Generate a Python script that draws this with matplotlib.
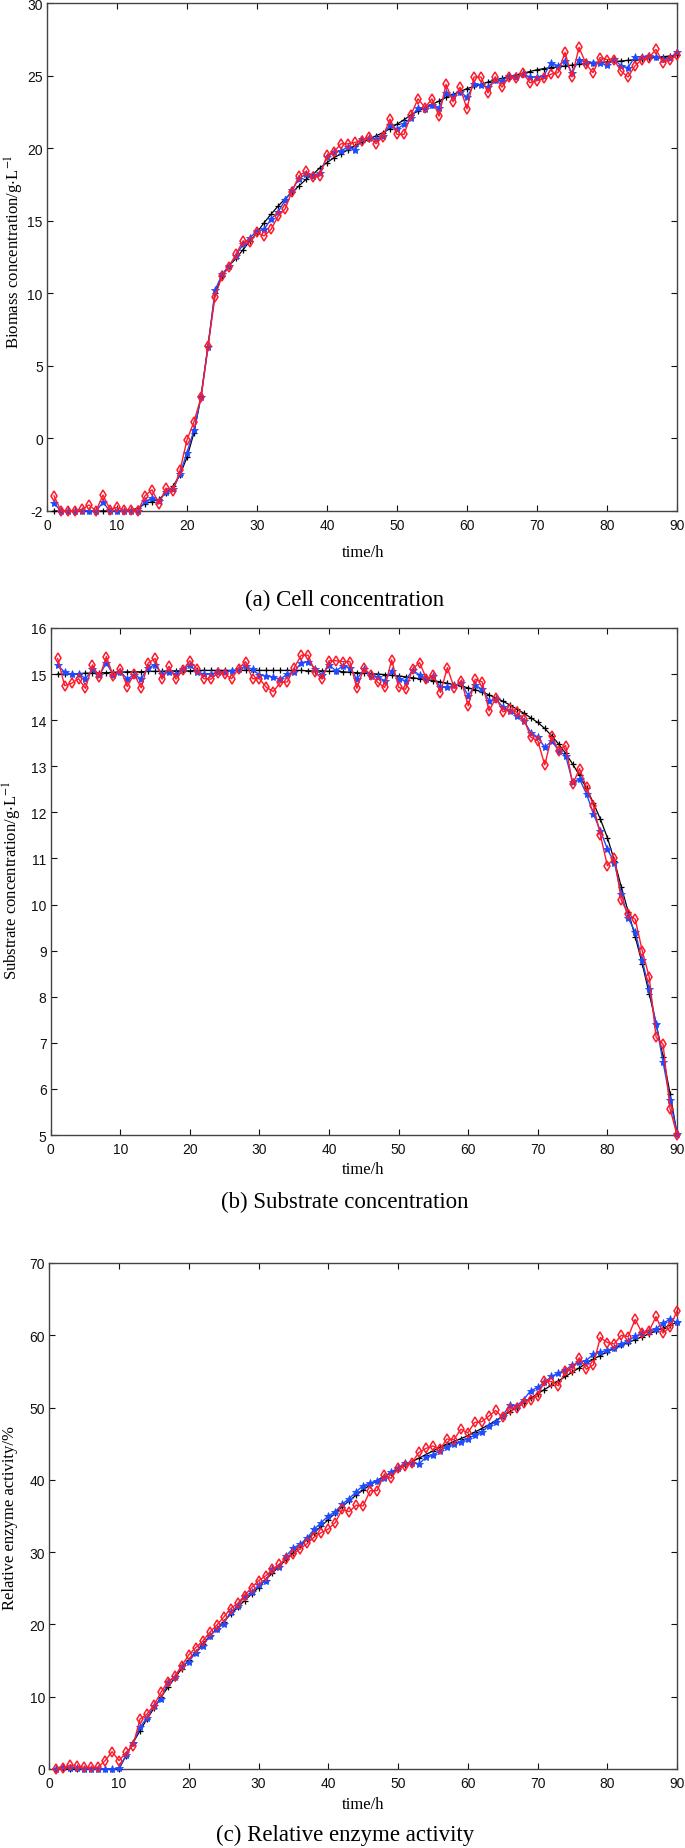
import matplotlib

matplotlib.use("Agg")
import matplotlib.pyplot as plt
import numpy as np

plt.rcParams["font.family"] = "Liberation Sans"
plt.rcParams["mathtext.fontset"] = "stix"

# %% data, one value per hour (1..90)
hours = np.arange(1, 91)

# (a) cell concentration. axis units: bottom tick sits at -5 but is labelled "-2"
cell_model = [
    -5, -5, -5, -5, -5, -5, -5, -5, -5, -5,
    -5, -4.95, -4.8, -4.5, -4.35, -4.2, -3.75, -3.3, -2.5, -1.3,
    0.4, 2.9, 6.4, 10.0, 11.2, 11.9, 12.4, 13.0, 13.6, 14.2,
    14.85, 15.45, 16.0, 16.5, 16.95, 17.4, 17.85, 18.2, 18.65, 19.0,
    19.35, 19.6, 19.9, 20.15, 20.4, 20.6, 20.85, 21.07, 21.35, 21.65,
    21.95, 22.3, 22.55, 22.8, 23.0, 23.25, 23.5, 23.7, 23.9, 24.1,
    24.25, 24.4, 24.55, 24.7, 24.8, 24.93, 25.05, 25.16, 25.28, 25.4,
    25.48, 25.55, 25.6, 25.66, 25.72, 25.78, 25.84, 25.9, 25.92, 25.93,
    25.97, 26.0, 26.05, 26.1, 26.15, 26.2, 26.25, 26.3, 26.35, 26.4,
]
cell_blue = [
    -4.48, -5, -5, -5, -5, -4.97, -5, -4.41, -5, -5,
    -5, -5, -5, -4.34, -4.13, -4.3, -3.68, -3.49, -2.46, -0.97,
    0.57, 2.82, 6.27, 10.2, 11.3, 11.9, 12.6, 13.38, 13.84, 14.3,
    14.4, 15.1, 15.6, 16.4, 17.1, 17.9, 18.2, 18.1, 18.3, 19.4,
    19.7, 19.8, 20.1, 19.9, 20.6, 20.7, 20.6, 20.85, 21.6, 21.3,
    21.65, 22.1, 22.8, 22.7, 23.0, 22.8, 23.8, 23.6, 23.9, 23.5,
    24.4, 24.35, 24.2, 24.7, 24.6, 25.0, 24.9, 25.1, 24.9, 24.9,
    25.0, 25.9, 25.67, 26.0, 25.2, 26.1, 25.95, 25.9, 25.9, 25.7,
    26.15, 25.67, 25.55, 26.3, 26.3, 26.35, 26.3, 26.15, 26.24, 26.6,
]
cell_red = [
    -3.95, -5, -5, -5, -4.88, -4.58, -5, -3.9, -4.9, -4.75,
    -4.95, -4.9, -5, -3.95, -3.54, -4.5, -3.42, -3.65, -2.2, -0.1,
    1.15, 2.82, 6.38, 9.75, 11.2, 11.8, 12.7, 13.6, 13.5, 14.2,
    13.95, 14.4, 15.3, 15.8, 17.0, 18.1, 18.4, 18.0, 18.1, 19.5,
    19.75, 20.3, 20.3, 20.4, 20.5, 20.8, 20.3, 20.8, 22.0, 20.95,
    20.95, 22.3, 23.4, 22.8, 23.4, 22.2, 24.4, 23.2, 24.2, 22.7,
    24.9, 24.9, 23.8, 24.9, 24.2, 24.9, 24.8, 25.2, 24.5, 24.65,
    24.8, 25.1, 25.2, 26.6, 24.9, 26.95, 25.8, 25.2, 26.24, 26.1,
    26.1, 25.3, 24.9, 25.67, 26.1, 26.24, 26.8, 25.9, 26.1, 26.45,
]
cell_ticks = [-5, 0, 5, 10, 15, 20, 25, 30]
cell_ticklabels = ["-2", "0", "5", "10", "15", "20", "25", "30"]

# (b) substrate concentration
sub_model = [
    15.0, 15.0, 15.01, 15.01, 15.02, 15.02, 15.03, 15.03, 15.04, 15.04,
    15.05, 15.05, 15.05, 15.06, 15.06, 15.06, 15.07, 15.07, 15.07, 15.07,
    15.08, 15.08, 15.08, 15.08, 15.08, 15.08, 15.08, 15.08, 15.08, 15.08,
    15.08, 15.08, 15.08, 15.08, 15.08, 15.08, 15.07, 15.07, 15.07, 15.06,
    15.06, 15.05, 15.04, 15.03, 15.02, 15.01, 15.0, 14.99, 14.97, 14.96,
    14.94, 14.92, 14.9, 14.88, 14.86, 14.83, 14.8, 14.77, 14.74, 14.7,
    14.66, 14.61, 14.55, 14.48, 14.41, 14.33, 14.24, 14.15, 14.05, 13.95,
    13.82, 13.66, 13.48, 13.28, 13.05, 12.8, 12.52, 12.2, 11.85, 11.45,
    10.95, 10.38, 9.84, 9.3, 8.72, 8.07, 7.41, 6.7, 5.9, 5.03,
]
sub_blue = [
    15.2, 15.04, 15.0, 15.01, 14.9, 15.1, 14.98, 15.24, 14.98, 15.05,
    14.9, 14.98, 14.9, 15.14, 15.2, 15.0, 15.05, 15.0, 15.1, 15.2,
    15.05, 15.0, 15.0, 15.04, 15.04, 15.07, 15.1, 15.17, 15.1, 14.98,
    14.96, 14.93, 14.89, 15.0, 15.05, 15.25, 15.27, 15.12, 14.98, 15.2,
    15.07, 15.18, 15.14, 14.89, 15.1, 14.95, 14.93, 14.86, 15.07, 14.89,
    14.86, 15.09, 14.98, 14.9, 14.95, 14.71, 14.71, 14.76, 14.8, 14.53,
    14.76, 14.67, 14.42, 14.46, 14.28, 14.2, 14.1, 13.99, 13.73, 13.63,
    13.41, 13.55, 13.34, 13.23, 12.66, 12.72, 12.4, 11.96, 11.6, 11.2,
    10.91, 10.23, 9.71, 9.4, 8.79, 8.17, 7.41, 6.58, 5.77, 5.03,
]
sub_red = [
    15.34, 14.75, 14.8, 14.9, 14.69, 15.2, 14.93, 15.38, 14.95, 15.12,
    14.73, 15.0, 14.7, 15.24, 15.34, 14.89, 15.17, 14.89, 15.09, 15.29,
    15.11, 14.9, 14.89, 15.02, 15.0, 14.9, 15.12, 15.27, 14.9, 14.9,
    14.71, 14.62, 14.82, 14.83, 15.14, 15.41, 15.41, 15.04, 14.89, 15.29,
    15.29, 15.27, 15.27, 14.69, 15.13, 14.98, 14.82, 14.71, 15.31, 14.71,
    14.67, 15.11, 15.25, 14.9, 14.98, 14.6, 15.14, 14.69, 14.86, 14.31,
    14.89, 14.83, 14.2, 14.49, 14.18, 14.24, 14.17, 14.02, 13.63, 13.55,
    13.03, 13.65, 13.34, 13.45, 12.61, 12.95, 12.54, 12.14, 11.5, 10.84,
    11.02, 10.09, 9.8, 9.68, 9.0, 8.43, 7.12, 6.97, 5.57, 5.0,
]

# (c) relative enzyme activity
enz_model = [
    0, 0, 0, 0, 0, 0, 0, 0, 0, 0,
    1.85, 3.6, 5.3, 6.9, 8.4, 9.9, 11.3, 12.6, 13.9, 15.1,
    16.2, 17.3, 18.4, 19.4, 20.4, 21.4, 22.35, 23.3, 24.2, 25.1,
    26.2, 27.1, 28.1, 29.0, 29.95, 30.9, 31.8, 32.7, 33.6, 34.5,
    35.4, 36.3, 37.1, 37.9, 38.6, 39.3, 39.9, 40.5, 41.0, 41.5,
    42.0, 42.5, 43.0, 43.5, 44.0, 44.5, 44.9, 45.3, 45.7, 46.1,
    46.6, 47.1, 47.6, 48.2, 48.8, 49.4, 50.0, 50.7, 51.3, 51.9,
    52.5, 53.1, 53.7, 54.3, 54.9, 55.5, 56.1, 56.7, 57.2, 57.7,
    58.2, 58.6, 59.0, 59.4, 59.8, 60.2, 60.6, 61.0, 61.4, 61.8,
]
enz_blue = [
    0, 0.3, 0.1, 0.1, 0, 0, 0, 0, 0, 0.1,
    1.9, 3.6, 5.75, 7.1, 8.65, 9.7, 12.0, 12.7, 14.3, 14.85,
    16.1, 17.0, 18.4, 19.3, 20.1, 21.7, 22.6, 23.9, 24.45, 25.4,
    26.05, 27.7, 28.0, 29.5, 30.6, 31.1, 32.0, 33.2, 34.1, 35.0,
    35.6, 36.65, 37.4, 38.36, 39.2, 39.56, 39.9, 40.3, 41.1, 41.6,
    42.4, 42.4, 42.2, 43.1, 43.4, 44.0, 44.6, 44.9, 45.3, 45.65,
    46.2, 46.6, 47.5, 47.95, 48.9, 50.3, 50.2, 51.1, 52.3, 52.8,
    53.5, 54.3, 54.8, 55.2, 55.9, 56.25, 56.5, 57.4, 57.7, 57.9,
    58.3, 58.8, 59.25, 59.85, 60.3, 60.6, 60.9, 61.7, 62.2, 61.8,
]
enz_red = [
    0, 0.1, 0.55, 0.37, 0.23, 0.23, 0.23, 1.15, 2.4, 1.15,
    2.3, 3.23, 6.9, 7.6, 8.8, 10.6, 12.1, 12.8, 14.3, 15.8,
    16.8, 17.7, 18.9, 19.9, 21.0, 22.2, 22.9, 24.0, 25.1, 26.05,
    26.7, 27.6, 28.35, 29.04, 29.7, 30.5, 31.2, 32.1, 32.7, 33.2,
    34.1, 35.9, 35.6, 36.5, 36.4, 38.5, 38.5, 40.7, 40.2, 41.6,
    41.9, 42.4, 43.8, 44.35, 44.7, 44.2, 45.65, 45.55, 47.0, 46.5,
    47.95, 48.04, 48.8, 49.6, 48.64, 49.8, 50.0, 50.7, 51.1, 51.6,
    53.7, 53.6, 53.0, 55.0, 55.3, 56.9, 55.3, 55.9, 59.7, 59.0,
    58.8, 60.0, 59.8, 62.2, 60.3, 60.6, 62.6, 60.3, 61.1, 63.4,
]

x_ticks = np.arange(0, 91, 10)
blue = "#1f4bff"
red = "#ff1a2a"
serif = "Liberation Serif"


def draw_panel(ax, model, est1, est2, ylim, yticks, yticklabels):
    ax.plot(hours, model, color="k", lw=0.9, marker="+", ms=5, mew=0.9, clip_on=False, zorder=3)
    ax.plot(hours, est1, color=blue, lw=1.0, marker="*", ms=6, mew=0.6, clip_on=False, zorder=4)
    ax.plot(hours, est2, color=red, lw=1.0, marker="d", ms=4.8, mfc="none", mew=1.1,
            clip_on=False, zorder=5)
    ax.set_xlim(0, 90)
    ax.set_ylim(*ylim)
    ax.set_xticks(x_ticks)
    ax.set_yticks(yticks)
    ax.set_yticklabels(yticklabels)
    ax.tick_params(direction="in", top=True, right=True, length=4.5, width=0.8,
                   labelsize=10, colors="#111111")
    ax.tick_params(axis="x", pad=5)
    ax.tick_params(axis="y", pad=3)
    for s in ax.spines.values():
        s.set_linewidth(1.0)
        s.set_color("#444444")


fig = plt.figure(figsize=(6.85, 18.49), dpi=100)
W, H = 685.0, 1849.0

# (a)
ax1 = fig.add_axes([47 / W, 1 - 512 / H, 630 / W, 508 / H])
draw_panel(ax1, cell_model, cell_blue, cell_red, (-5, 30), cell_ticks, cell_ticklabels)

# (b)
ax2 = fig.add_axes([50.7 / W, 1 - 1136 / H, 626.3 / W, 507 / H])
draw_panel(ax2, sub_model, sub_blue, sub_red, (5, 16), np.arange(5, 17),
           [str(v) for v in range(5, 17)])

# (c)
ax3 = fig.add_axes([49.3 / W, 1 - 1770 / H, 627.7 / W, 506 / H])
draw_panel(ax3, enz_model, enz_blue, enz_red, (0, 70), np.arange(0, 71, 10),
           [str(v) for v in range(0, 71, 10)])

# y labels placed in figure pixels so they stay inside the left edge
for x_px, y_px, lab in [
    (14, 252, r"Biomass concentration/g$\cdot$L$^{-1}$"),
    (12, 880, r"Substrate concentration/g$\cdot$L$^{-1}$"),
    (10, 1518, "Relative enzyme activity/%"),
]:
    fig.text(x_px / W, 1 - y_px / H, lab, rotation=90, ha="center", va="center",
             fontsize=12, family=serif)

# x labels and captions
for y_lab, y_cap, cap in [
    (553, 600, "(a) Cell concentration"),
    (1170, 1202, "(b) Substrate concentration"),
    (1805, 1835, "(c) Relative enzyme activity"),
]:
    fig.text(363 / W, 1 - y_lab / H, "time/h", ha="center", va="center",
             fontsize=12, family=serif)
    fig.text(345 / W, 1 - y_cap / H, cap, ha="center", va="center",
             fontsize=16.5, family=serif)

fig.savefig("out.png", dpi=100)
